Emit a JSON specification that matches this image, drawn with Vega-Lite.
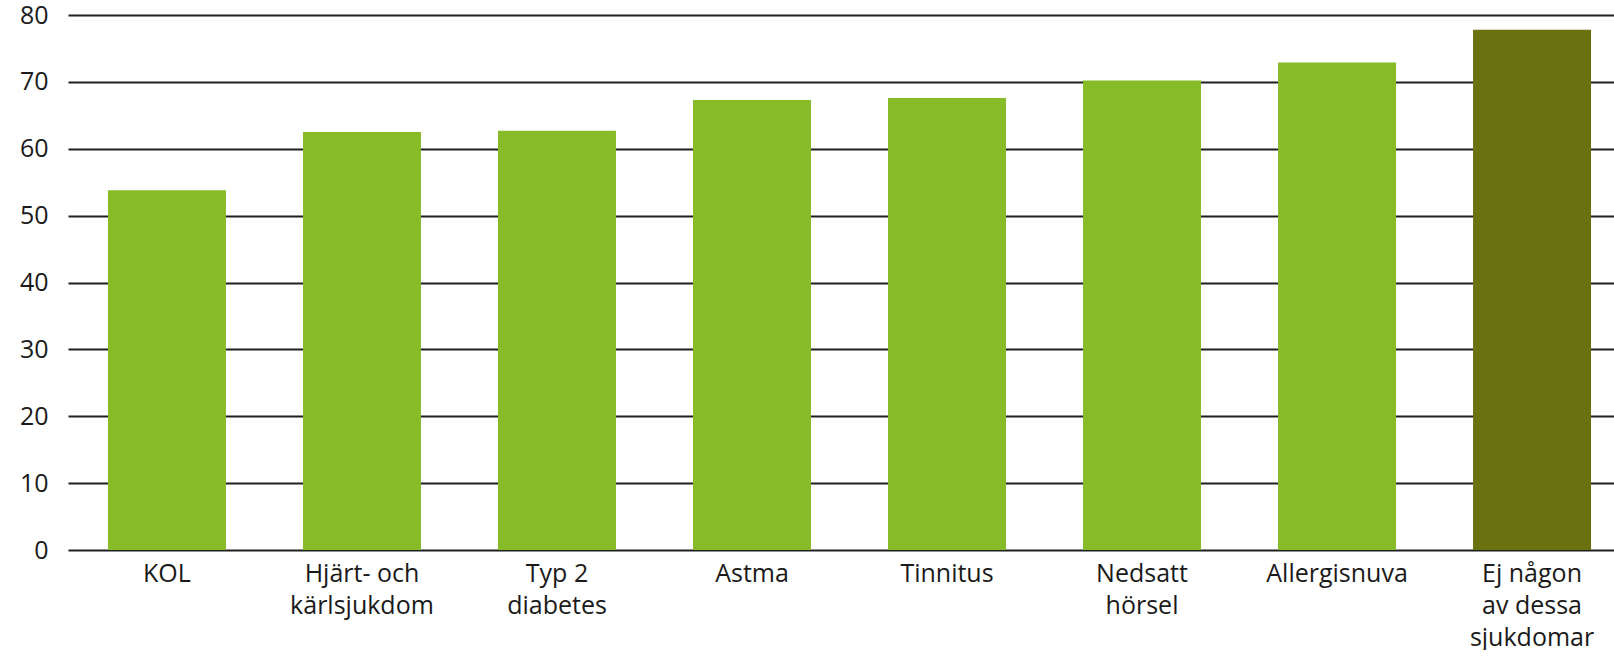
{
  "$schema": "https://vega.github.io/schema/vega-lite/v6.json",
  "width": 1544,
  "height": 535,
  "padding": {"left": 19, "top": 3, "right": 0, "bottom": 0},
  "background": "white",
  "config": {
    "view": {"stroke": null},
    "font": "Open Sans"
  },
  "data": {
    "values": [
      {"kategori": "KOL", "andel": 53.8, "grupp": "sjukdom"},
      {"kategori": "Hjärt- och\nkärlsjukdom", "andel": 62.5, "grupp": "sjukdom"},
      {"kategori": "Typ 2\ndiabetes", "andel": 62.7, "grupp": "sjukdom"},
      {"kategori": "Astma", "andel": 67.3, "grupp": "sjukdom"},
      {"kategori": "Tinnitus", "andel": 67.6, "grupp": "sjukdom"},
      {"kategori": "Nedsatt\nhörsel", "andel": 70.2, "grupp": "sjukdom"},
      {"kategori": "Allergisnuva", "andel": 72.9, "grupp": "sjukdom"},
      {"kategori": "Ej någon\nav dessa\nsjukdomar", "andel": 77.8, "grupp": "ingen"}
    ]
  },
  "mark": {"type": "bar"},
  "encoding": {
    "x": {
      "field": "kategori",
      "type": "nominal",
      "sort": null,
      "scale": {"paddingInner": 0.395, "paddingOuter": 0.205, "range": [0, 1563]},
      "axis": {
        "title": null,
        "domain": false,
        "ticks": false,
        "labelAngle": 0,
        "labelFont": "Open Sans",
        "labelFontSize": 25,
        "labelColor": "#1a1a1a",
        "labelPadding": 11,
        "labelLineHeight": 32,
        "labelBaseline": "top",
        "labelExpr": "split(datum.label, '\\n')"
      }
    },
    "y": {
      "field": "andel",
      "type": "quantitative",
      "scale": {"domain": [0, 80]},
      "axis": {
        "title": null,
        "values": [0, 10, 20, 30, 40, 50, 60, 70, 80],
        "domain": false,
        "ticks": false,
        "tickSize": 0,
        "labelPadding": 20,
        "labelFont": "Open Sans",
        "labelFontSize": 25,
        "labelColor": "#1a1a1a",
        "grid": true,
        "gridColor": "#1f1f1f",
        "gridWidth": 2,
        "gridOpacity": 1,
        "zindex": 0
      }
    },
    "color": {
      "field": "grupp",
      "type": "nominal",
      "scale": {"domain": ["sjukdom", "ingen"], "range": ["#87BB28", "#69720E"]},
      "legend": null
    }
  }
}
